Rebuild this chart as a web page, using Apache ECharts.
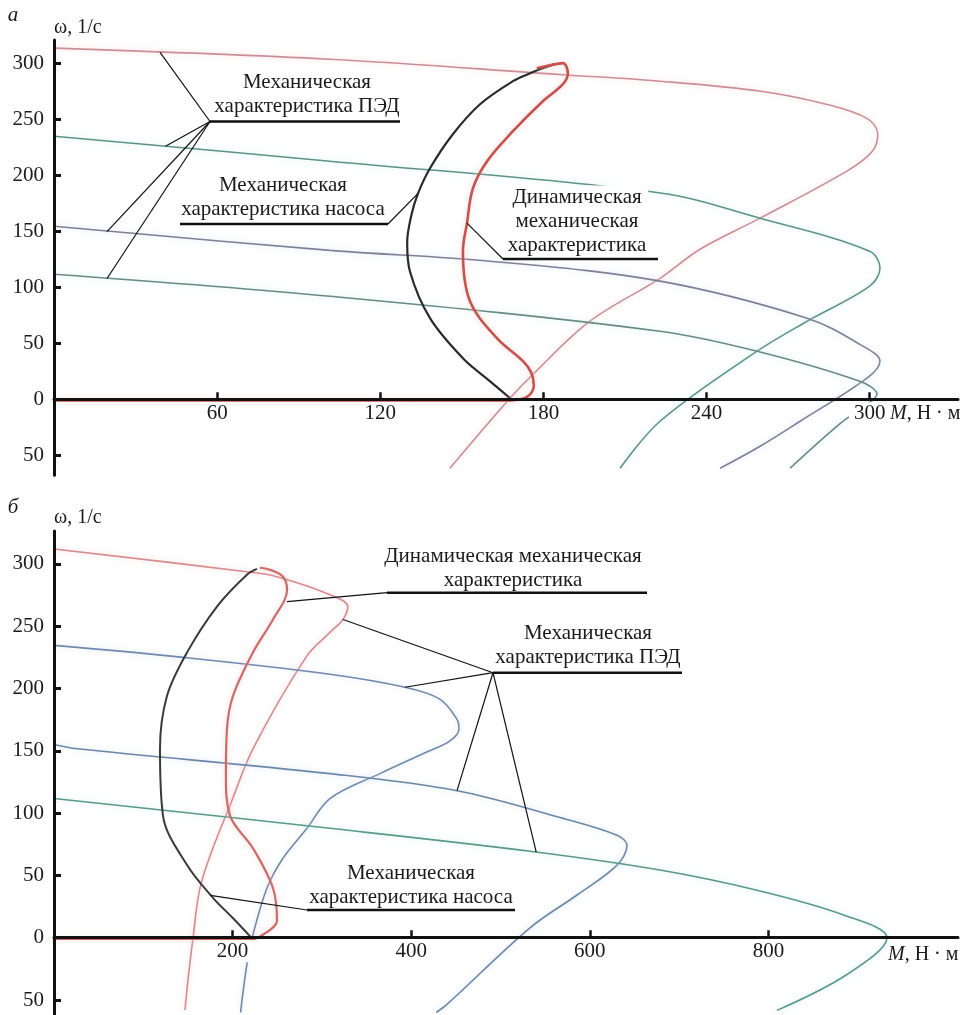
<!DOCTYPE html>
<html><head><meta charset="utf-8">
<script src="https://cdn.jsdelivr.net/npm/echarts@6/dist/echarts.min.js"></script>
<style>html,body{margin:0;padding:0;background:#fff}#c{width:974px;height:1015px}</style>
</head><body><div id="c"></div>
<script>
// ---------- tick labels ----------
const yTicks = [-50, 0, 50, 100, 150, 200, 250, 300];
const xTicksA = [60, 120, 180, 240, 300];
const xTicksB = [200, 400, 600, 800];

// ---------- panel а : [M, ω] ----------
const aMotor1 = [[0,313.7],[101.5,303.8],[187,290],[223,284.2],[260,275.2],[284,263.6],[299,251],[303,237],[301,221.6],[291.6,203.8],[259.7,161.8],[237.6,134],[222.9,108],[197.1,69.7],[176.2,22.3],[167.7,0.9],[145.6,-61.7]];
const aMotor2 = [[0,235],[101.5,212.7],[222.9,184.3],[259.7,161.8],[300,132.3],[303.8,117],[300,101],[277,69.7],[258.6,42.9],[222.9,-19.7],[208.2,-61.7]];
const aMotor3 = [[0,154.6],[101.5,133],[160.4,123.3],[222.9,105.5],[277,72.4],[296.4,49],[303.8,34],[299,18.8],[274.4,-19.7],[259.7,-42],[245,-61.7]];
const aMotor4 = [[0,111.7],[101.5,92],[222.9,60.8],[258.6,42.9],[296.4,16],[302.7,4.5],[297,-8],[289,-22],[270.7,-61.7]];
const aPump = [[167.7,0.9],[160.4,16],[150.4,36.6],[138.3,72.4],[130.9,114.4],[129.9,140],[131.5,165],[133.9,184],[138.3,206.4],[146.7,236.8],[156.7,263.6],[168.8,284.2],[175.1,291.3],[178.7,294.9],[184.3,299.4]];
const aDyn = [[0,-1],[168,-1],[174,2],[176.5,12],[175.5,24],[172.5,34],[162.9,54.5],[153,87.6],[150.4,132.3],[151.9,157.3],[154.1,188.6],[159.3,212.7],[168.8,239.5],[179.8,266.3],[187.2,281.5],[189,291.3],[187.2,300.3],[182.4,298.5],[177.6,295.8]];

// ---------- panel б : [M, ω] ----------
const bMotor1 = [[0,312],[216,293.7],[249.7,289.7],[309,275.3],[329,265.8],[323.6,255.4],[309,245],[283,226],[222.8,151.6],[197,106],[178,72],[163.5,40],[155.7,0],[150,-34],[146.7,-58]];
const bMotor2 = [[0,234.6],[144.5,225],[309,211.5],[393,201],[432,191.5],[451,175.6],[453.5,167.6],[443.4,158],[415.5,148.4],[365,131.7],[309,111.7],[283.3,87.8],[256.4,63.8],[238.5,39.9],[222.8,2.4],[216,-21.5],[210.5,-50.3],[209,-60]];
const bMotor3 = [[0,155],[25.8,151.6],[309,131.7],[451.3,118],[570,95.8],[630.5,82.2],[641.7,74.2],[630.5,58.3],[585.7,34.3],[533,8],[440,-53.5],[428,-60]];
const bMotor4 = [[0,111.7],[309,87.8],[533,69.4],[678.6,54.3],[790.6,37.5],[883.5,18.4],[932.8,0],[888,-29.5],[809.6,-58.3]];
const bPump = [[221,0],[200,16],[178,32],[149,58.3],[122,98.2],[118.7,151.6],[126.5,194],[149,229],[182.5,265.8],[216,291.3],[227.3,296]];
const bDyn = [[0,-1],[222,-1],[234,2.4],[249.7,13.6],[245.2,39.9],[222.8,71.8],[197,98.2],[192.5,130],[193.7,167.6],[200.4,194],[222.8,229],[245.2,255.4],[261,279.3],[256.4,289.7],[243,295],[230.7,296.9]];

const FONT = "'Liberation Serif','Times New Roman',serif";

function curve(data, color, width, gi, halo, z) {
  return {
    type: 'line', data, xAxisIndex: gi, yAxisIndex: gi, smooth: 0.35,
    symbol: 'none', showSymbol: false, silent: true, z: z || 2,
    lineStyle: { color, width, shadowColor: halo || 'rgba(0,0,0,0)', shadowBlur: halo ? 6 : 0 }
  };
}
// x axis is placed where ω = 0 on the y scale
function zeroOffset(yMin, yMax, h) { return -(0 - yMin) / (yMax - yMin) * h; }
function mkX(max, ticks, gi, off) {
  return {
    type: 'value', gridIndex: gi, min: 0, max, z: 5, position: 'bottom', offset: off,
    axisLine: { show: true, onZero: false, lineStyle: { color: '#111', width: 3 } },
    axisTick: { show: true, inside: true, length: 7, lineStyle: { color: '#111', width: 2.5 }, customValues: ticks },
    axisLabel: { show: true, customValues: ticks, fontFamily: FONT, fontSize: 21, color: '#1a1a1a', margin: 3, backgroundColor: '#fff', padding: [1, 5, 0, 5] },
    splitLine: { show: false }
  };
}
function mkY(min, max, gi, gap) {
  return {
    type: 'value', gridIndex: gi, min, max, z: 5,
    axisLine: { show: true, onZero: false, lineStyle: { color: '#111', width: 3 } },
    axisTick: { show: true, inside: true, length: 7, lineStyle: { color: '#111', width: 3 }, customValues: yTicks },
    axisLabel: { customValues: yTicks, formatter: v => String(Math.abs(v)), fontFamily: FONT, fontSize: 21, color: '#1a1a1a', margin: 10 },
    splitLine: { show: false },
    name: 'ω, 1/с', nameLocation: 'end', nameGap: gap,
    nameTextStyle: { fontFamily: FONT, fontSize: 20, color: '#1a1a1a', align: 'left', verticalAlign: 'bottom' }
  };
}

const yA = [-68, 321], yB = [-62, 326.4], hA = 435.3, hB = 486.7;
const chart = echarts.init(document.getElementById('c'));
const PINK = 'rgba(250,200,205,0.8)', GREEN = 'rgba(200,240,232,0.9)', BLUE = 'rgba(210,220,245,0.9)';
chart.setOption({
  animation: false,
  backgroundColor: '#fff',
  grid: [
    { left: 54, top: 40, width: 904, height: hA },
    { left: 54, top: 531, width: 904, height: hB }
  ],
  xAxis: [mkX(332.5, xTicksA, 0, zeroOffset(yA[0], yA[1], hA)), mkX(1012.3, xTicksB, 1, zeroOffset(yB[0], yB[1], hB))],
  yAxis: [mkY(yA[0], yA[1], 0, 2), mkY(yB[0], yB[1], 1, 3)],
  visualMap: [{
    show: false, type: 'piecewise', seriesIndex: 7, dimension: 1,
    pieces: [{ gte: -28, lte: 0, color: '#3b78d2' }],
    outOfRange: { color: '#7089b0' }
  }],
  series: [
    curve(aMotor1, '#cc8e96', 1.6, 0, PINK),
    curve(aMotor2, '#5d9488', 1.6, 0, GREEN),
    curve(aMotor3, '#7d8098', 1.6, 0, BLUE),
    curve(aMotor4, '#6a8a86', 1.6, 0, GREEN),
    curve(aPump, '#2a2a2a', 2.2, 0, null, 3),
    curve(aDyn, '#c9524b', 2.6, 0, PINK, 4),
    curve(bMotor1, '#d88a8e', 1.6, 1, PINK),
    curve(bMotor2, '#7089b0', 1.6, 1, BLUE),
    curve(bMotor3, '#6a88a8', 1.6, 1, BLUE),
    curve(bMotor4, '#5a9a8a', 1.6, 1, GREEN),
    curve(bPump, '#3a3a3a', 2, 1, null, 3),
    curve(bDyn, '#cf6a68', 2.2, 1, PINK, 4)
  ]
});

// ---------- annotations (layout) ----------
const annA = [
  { text: 'Механическая\nхарактеристика ПЭД', cx: 307, cy: 94, ul: [210, 400, 121.5], hubRight: false, targets: [[39, 309.9], [41, 226], [19.5, 149.8], [19.5, 107.9]] },
  { text: 'Механическая\nхарактеристика насоса', cx: 283, cy: 197, ul: [180, 388, 224], hubRight: true, targets: [[133.9, 184]] },
  { text: 'Динамическая\nмеханическая\nхарактеристика', cx: 577, cy: 221.5, ul: [503, 658, 259], hubRight: false, targets: [[151.9, 157.3]] }
];
const annB = [
  { text: 'Динамическая механическая\nхарактеристика', cx: 513, cy: 568.5, ul: [387, 647, 592.7], hubRight: false, targets: [[260.9, 269.8]] },
  { text: 'Механическая\nхарактеристика ПЭД', cx: 588, cy: 645, ul: [493, 682, 672.7], hubRight: false, targets: [[323.6, 255.4], [393, 201], [451.3, 118], [540, 68.7]] },
  { text: 'Механическая\nхарактеристика насоса', cx: 411, cy: 885, ul: [307, 515, 910], hubRight: false, targets: [[175, 34]] }
];

const g = [];
function addAnn(list, gi) {
  list.forEach(a => {
    g.push({ type: 'text', z: 100, style: { text: a.text, x: a.cx, y: a.cy, font: '21px ' + FONT, fill: '#1a1a1a', align: 'center', verticalAlign: 'middle', lineHeight: 24, backgroundColor: '#fff', padding: [0, 2] } });
    g.push({ type: 'line', z: 101, shape: { x1: a.ul[0], y1: a.ul[2], x2: a.ul[1], y2: a.ul[2] }, style: { stroke: '#111', lineWidth: 2.4 } });
    const hx = a.hubRight ? a.ul[1] : a.ul[0];
    a.targets.forEach(t => {
      const p = chart.convertToPixel({ gridIndex: gi }, t);
      g.push({ type: 'line', z: 101, shape: { x1: hx, y1: a.ul[2], x2: p[0], y2: p[1] }, style: { stroke: '#111', lineWidth: 1.2 } });
    });
  });
}
addAnn(annA, 0);
addAnn(annB, 1);
g.push({ type: 'text', z: 100, style: { text: 'а', x: 13, y: 15, font: 'italic 21px ' + FONT, fill: '#1a1a1a', align: 'center', verticalAlign: 'middle' } });
g.push({ type: 'text', z: 100, style: { text: 'б', x: 13, y: 507, font: 'italic 21px ' + FONT, fill: '#1a1a1a', align: 'center', verticalAlign: 'middle' } });
[[890, 414], [888, 955]].forEach(p => {
  g.push({ type: 'text', z: 100, style: { text: '{i|M}, Н · м', x: p[0], y: p[1], font: '20px ' + FONT, fill: '#1a1a1a', align: 'left', verticalAlign: 'middle', backgroundColor: '#fff',
    rich: { i: { fontStyle: 'italic', fontFamily: FONT, fontSize: 20, fill: '#1a1a1a' } } } });
});
chart.setOption({ graphic: g });
</script>
</body></html>
